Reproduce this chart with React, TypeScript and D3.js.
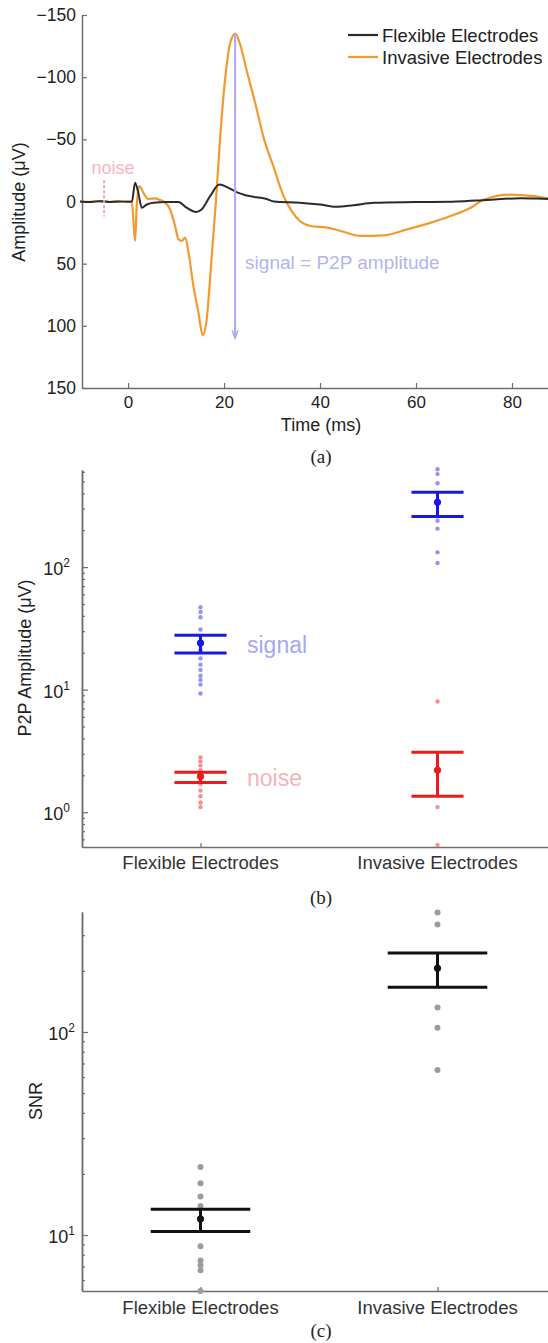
import React, { useEffect, useRef } from "react";
import * as d3 from "d3";

const WIDTH = 548;
const HEIGHT = 1343;
const FONT = "'Liberation Sans', Arial, Helvetica, sans-serif";

// (a) averaged evoked response, amplitude in uV (positive plotted downwards)
const flexibleTime = [-10, -8, -6, -4, -2, 0, 0.8, 1.46, 2.15, 2.85, 3.9, 5.3, 8, 10.5, 12.2, 14.2, 15.3, 17.1, 19, 20.9, 22.6, 24.7, 28.9, 30.4, 35.8, 40, 43.3, 47, 51.2, 60, 68.5, 74.8, 81.8, 87.5, 90];
const flexibleAmp = [0, 0.5, -0.3, 0.4, 0, 0.2, 0, -15, -6.7, 5, 2.4, 1, 0.5, 0.5, 5, 8.5, 6.5, -4.3, -13.6, -11, -7.5, -4.8, -2, 0, 1, 2.5, 4.3, 3, 1.1, 0.5, 0, -1.3, -2.6, -2.1, -2];
const invasiveTime = [-10, -8, -6, -4, -2, 0, 0.77, 1.46, 1.8, 2.36, 3.2, 4.2, 5.5, 6.5, 7.4, 8.75, 9.8, 10.5, 11.2, 11.9, 12.6, 13.6, 14.65, 15.55, 16.4, 17.4, 18.3, 19.2, 20.2, 21.25, 22.3, 23.3, 24.7, 26.5, 28.2, 30.3, 32.4, 34.1, 35.8, 38, 41.5, 44.3, 48.5, 53.3, 58.2, 63.1, 67.2, 71.4, 74.2, 79.7, 84.6, 87.5, 90];
const invasiveAmp = [0, 0.3, -0.4, 0.3, 0, 0, 0, 31.7, 3.7, -12.3, -7, -2, -2.5, -1.5, 0, 6.4, 19.7, 30.4, 31.7, 29, 41, 67.7, 89, 107.7, 94, 46, 0, -52, -97.6, -127, -135, -127, -105.6, -79, -52, -28, -4.3, 7.7, 15.7, 19.7, 21, 23.7, 27.7, 27.2, 22.4, 17, 11.7, 5, -1.6, -5.6, -4.3, -2.7, -2.5];
const amplitudeTicks = [-150, -100, -50, 0, 50, 100, 150];
const timeTicks = [0, 20, 40, 60, 80];
const noiseTime = -5;
const noiseSpan = [-17, 12];
const signalTime = 22.3;
const signalSpan = [-135, 110];

const electrodeTypes = ["Flexible Electrodes", "Invasive Electrodes"];

// (b) peak-to-peak amplitudes per electrode
const flexibleSignal = [47, 43, 39, 31, 24, 21, 18, 16, 14.5, 13, 12, 11, 9.3];
const invasiveSignal = [628, 574, 484, 239, 206, 132, 108];
const flexibleNoise = [2.8, 2.6, 2.4, 2.2, 1.95, 1.7, 1.5, 1.35, 1.2, 1.1];
const invasiveNoise = [8, 2.2, 1.1, 0.54];
const signalMean = [24, 338];
const signalLow = [19.9, 259];
const signalHigh = [27.8, 409];
const noiseMean = [1.96, 2.2];
const noiseLow = [1.75, 1.35];
const noiseHigh = [2.12, 3.09];

// (c) signal to noise ratio
const flexibleSNR = [21.6, 18, 15.5, 13.9, 12, 8.8, 7.5, 7.1, 6.7, 5.3];
const invasiveSNR = [388, 338, 206, 132, 105, 65];
const snrMean = [12, 206];
const snrLow = [10.4, 166];
const snrHigh = [13.4, 245];

const AXIS = "#6e6e6e";

type Sel = d3.Selection<SVGGElement, unknown, null, undefined>;

function styleAxis(g: Sel, size = 18) {
  g.attr("font-family", FONT).attr("font-size", size);
  g.select(".domain").attr("stroke", AXIS).attr("stroke-width", 1.5);
  g.selectAll(".tick line").attr("stroke", AXIS).attr("stroke-width", 1.2);
  g.selectAll(".tick text").attr("fill", "#222");
}

function logAxis(svg: Sel, y: d3.ScaleLogarithmic<number, number>, x0: number, labelGap: number) {
  const [lo, hi] = y.domain();
  const minor: number[] = [];
  const major: number[] = [];
  for (let e = Math.floor(Math.log10(lo)); e <= Math.ceil(Math.log10(hi)); e++) {
    for (let k = 1; k < 10; k++) {
      const v = k * Math.pow(10, e);
      if (v < lo || v > hi) continue;
      if (k === 1) major.push(v);
      else minor.push(v);
    }
  }
  const gMinor = svg.append("g").attr("transform", `translate(${x0},0)`)
    .call(d3.axisLeft(y).tickValues(minor).tickSize(-3).tickSizeOuter(0).tickFormat(() => ""));
  styleAxis(gMinor);
  const gMajor = svg.append("g").attr("transform", `translate(${x0},0)`)
    .call(d3.axisLeft(y).tickValues(major).tickSize(-6).tickSizeOuter(0).tickFormat(() => ""));
  styleAxis(gMajor);
  const lab = svg.append("g").attr("font-family", FONT).attr("fill", "#222");
  major.forEach(v => {
    const t = lab.append("text")
      .attr("x", x0 - labelGap)
      .attr("y", y(v) + 8)
      .attr("text-anchor", "end")
      .attr("font-size", 18);
    t.append("tspan").text("10");
    t.append("tspan").attr("dy", -8).attr("font-size", 12).text(String(Math.round(Math.log10(v))));
  });
}

function categoryAxis(svg: Sel, x: d3.ScaleLinear<number, number>, y0: number, labelY: number) {
  const g = svg.append("g").attr("transform", `translate(0,${y0})`)
    .call(d3.axisBottom(x).tickValues([1, 2]).tickSize(-4).tickSizeOuter(0).tickFormat(() => ""));
  styleAxis(g);
  svg.append("g").attr("font-family", FONT).attr("font-size", 18.5).attr("fill", "#333")
    .selectAll("text").data(electrodeTypes).join("text")
    .attr("x", (_d, i) => x(i + 1))
    .attr("y", labelY)
    .attr("text-anchor", "middle")
    .text(d => d);
}

function errorBar(
  svg: Sel, x: d3.ScaleLinear<number, number>, y: d3.ScaleLogarithmic<number, number>,
  cat: number, mean: number, low: number, high: number, half: number, color: string
) {
  const g = svg.append("g").attr("stroke", color).attr("stroke-width", 3).attr("fill", color);
  g.append("line").attr("x1", x(cat)).attr("x2", x(cat)).attr("y1", y(low)).attr("y2", y(high));
  [low, high].forEach(v => {
    g.append("line").attr("x1", x(cat - half)).attr("x2", x(cat + half)).attr("y1", y(v)).attr("y2", y(v));
  });
  g.append("circle").attr("cx", x(cat)).attr("cy", y(mean)).attr("r", 3.2).attr("stroke-width", 1);
}

function dots(svg: Sel, x: d3.ScaleLinear<number, number>, y: d3.ScaleLogarithmic<number, number>,
  cat: number, values: number[], color: string, r: number) {
  svg.append("g").selectAll("circle").data(values).join("circle")
    .attr("cx", x(cat)).attr("cy", d => y(d)).attr("r", r).attr("fill", color);
}

function caption(svg: Sel, text: string, y: number) {
  svg.append("text").attr("x", 321).attr("y", y).attr("text-anchor", "middle")
    .attr("font-family", "'Liberation Serif', 'Times New Roman', serif").attr("font-size", 19)
    .attr("fill", "#222").text(text);
}

function yLabel(svg: Sel, text: string, x: number, y: number) {
  svg.append("text").attr("transform", `translate(${x},${y}) rotate(-90)`)
    .attr("text-anchor", "middle").attr("font-family", FONT).attr("font-size", 18)
    .attr("fill", "#222").text(text);
}

export default function App() {
  const ref = useRef<SVGSVGElement>(null);

  useEffect(() => {
    const svg = d3.select(ref.current) as unknown as Sel;
    svg.selectAll("*").remove();

    // ---------- (a) ----------
    const xa = d3.scaleLinear().domain([-9.6, 90]).range([82, 560]);
    const ya = d3.scaleLinear().domain([-150, 150]).range([15, 388]);

    const gx = svg.append("g").attr("transform", "translate(0,388)")
      .call(d3.axisBottom(xa).tickValues(timeTicks).tickSize(-5).tickSizeOuter(0).tickPadding(8));
    styleAxis(gx, 17);
    const gy = svg.append("g").attr("transform", "translate(82,0)")
      .call(d3.axisLeft(ya).tickValues(amplitudeTicks).tickSize(-5).tickSizeOuter(0).tickPadding(6)
        .tickFormat(d => String(d).replace("-", "\u2212")));
    styleAxis(gy, 17.5);

    const line = d3.line<[number, number]>().x(d => xa(d[0])).y(d => ya(d[1])).curve(d3.curveMonotoneX);

    svg.append("path").datum(invasiveTime.map((t, i) => [t, invasiveAmp[i]] as [number, number]))
      .attr("d", line).attr("fill", "none").attr("stroke", "#f29a2e").attr("stroke-width", 2.2);
    svg.append("path").datum(flexibleTime.map((t, i) => [t, flexibleAmp[i]] as [number, number]))
      .attr("d", line).attr("fill", "none").attr("stroke", "#2b2b2b").attr("stroke-width", 2);

    // noise window marker
    svg.append("line").attr("x1", xa(noiseTime)).attr("x2", xa(noiseTime))
      .attr("y1", ya(noiseSpan[0])).attr("y2", ya(noiseSpan[1]))
      .attr("stroke", "#f2a3b3").attr("stroke-width", 2).attr("stroke-dasharray", "3,2");
    svg.append("text").attr("x", xa(noiseTime) + 9).attr("y", ya(-22)).attr("text-anchor", "middle")
      .attr("font-family", FONT).attr("font-size", 18).attr("fill", "#f4b7c3").text("noise");

    // signal (peak to peak) arrow
    const sx = xa(signalTime);
    svg.append("line").attr("x1", sx).attr("x2", sx)
      .attr("y1", ya(signalSpan[0])).attr("y2", ya(signalSpan[1]))
      .attr("stroke", "#a9a9f7").attr("stroke-width", 2);
    svg.append("path")
      .attr("d", `M${sx - 3},${ya(signalSpan[1]) - 8}L${sx},${ya(signalSpan[1])}L${sx + 3},${ya(signalSpan[1]) - 8}`)
      .attr("fill", "none").attr("stroke", "#a9a9f7").attr("stroke-width", 1.5);
    svg.append("text").attr("x", sx + 10).attr("y", ya(54.5))
      .attr("font-family", FONT).attr("font-size", 19).attr("fill", "#b4b4ee").text("signal = P2P amplitude");

    // legend
    const legend = svg.append("g").attr("font-family", FONT).attr("font-size", 18.5).attr("fill", "#222");
    [["Flexible Electrodes", "#2b2b2b"], ["Invasive Electrodes", "#f29a2e"]].forEach(([name, c], i) => {
      const yy = 35 + i * 22;
      legend.append("line").attr("x1", 348).attr("x2", 378).attr("y1", yy).attr("y2", yy)
        .attr("stroke", c).attr("stroke-width", 2.2);
      legend.append("text").attr("x", 382).attr("y", yy + 6.5).text(name);
    });

    svg.append("text").attr("x", 321).attr("y", 431).attr("text-anchor", "middle")
      .attr("font-family", FONT).attr("font-size", 18).attr("fill", "#222").text("Time (ms)");
    yLabel(svg, "Amplitude (\u03bcV)", 25, 202);
    caption(svg, "(a)", 463);

    // ---------- (b) ----------
    const xc = d3.scaleLinear().domain([0.5, 2.5]).range([82, 556]);
    const yb = d3.scaleLog().domain([0.52, 620]).range([847, 470]);
    logAxis(svg, yb, 82, 12);
    categoryAxis(svg, xc, 847, 869);

    dots(svg, xc, yb, 1, flexibleSignal, "#9494f2", 2.2);
    dots(svg, xc, yb, 2, invasiveSignal, "#9494f2", 2.2);
    dots(svg, xc, yb, 1, flexibleNoise, "#f29090", 2.2);
    dots(svg, xc, yb, 2, invasiveNoise, "#f29090", 2.2);
    [1, 2].forEach((c, i) => {
      errorBar(svg, xc, yb, c, signalMean[i], signalLow[i], signalHigh[i], 0.11, "#1717e8");
      errorBar(svg, xc, yb, c, noiseMean[i], noiseLow[i], noiseHigh[i], 0.11, "#ee1a1a");
    });
    svg.append("text").attr("x", 247).attr("y", yb(signalMean[0]) + 10)
      .attr("font-family", FONT).attr("font-size", 23).attr("fill", "#a8a8f0").text("signal");
    svg.append("text").attr("x", 247).attr("y", yb(noiseMean[0]) + 10)
      .attr("font-family", FONT).attr("font-size", 23).attr("fill", "#f3b3bd").text("noise");

    yLabel(svg, "P2P Amplitude (\u03bcV)", 31, 658);
    caption(svg, "(b)", 904);

    // ---------- (c) ----------
    const yc = d3.scaleLog().domain([5.3, 390]).range([1291, 912]);
    logAxis(svg, yc, 82, 7);
    categoryAxis(svg, xc, 1291, 1314);
    dots(svg, xc, yc, 1, flexibleSNR, "#9c9c9c", 3);
    dots(svg, xc, yc, 2, invasiveSNR, "#9c9c9c", 3);
    [1, 2].forEach((c, i) => {
      errorBar(svg, xc, yc, c, snrMean[i], snrLow[i], snrHigh[i], 0.21, "#111");
    });
    yLabel(svg, "SNR", 42, 1101);
    caption(svg, "(c)", 1337);
  }, []);

  return (
    <svg
      ref={ref}
      width={WIDTH}
      height={HEIGHT}
      style={{ position: "absolute", left: 0, top: 0, background: "#fff" }}
    />
  );
}
